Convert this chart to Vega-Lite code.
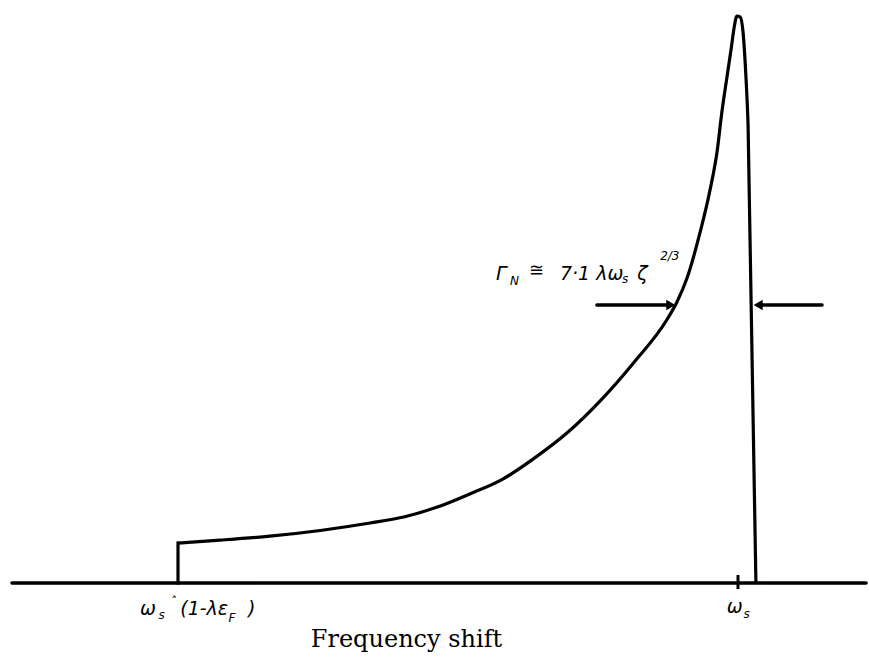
{
  "$schema": "https://vega.github.io/schema/vega-lite/v6.json",
  "width": 869,
  "height": 661,
  "padding": 0,
  "autosize": {"type": "fit", "contains": "padding"},
  "background": "white",
  "config": {"view": {"stroke": null}},
  "datasets": {
    "spectrum": [
      {"freq": 0.0, "level": 0.07},
      {"freq": 0.075, "level": 0.075},
      {"freq": 0.164, "level": 0.082},
      {"freq": 0.254, "level": 0.092},
      {"freq": 0.343, "level": 0.105},
      {"freq": 0.405, "level": 0.116},
      {"freq": 0.463, "level": 0.133},
      {"freq": 0.521, "level": 0.156},
      {"freq": 0.58, "level": 0.182},
      {"freq": 0.634, "level": 0.217},
      {"freq": 0.695, "level": 0.263},
      {"freq": 0.754, "level": 0.319},
      {"freq": 0.813, "level": 0.385},
      {"freq": 0.873, "level": 0.461},
      {"freq": 0.891, "level": 0.492},
      {"freq": 0.909, "level": 0.534},
      {"freq": 0.932, "level": 0.613},
      {"freq": 0.95, "level": 0.688},
      {"freq": 0.963, "level": 0.758},
      {"freq": 0.971, "level": 0.823},
      {"freq": 0.98, "level": 0.884},
      {"freq": 0.988, "level": 0.937},
      {"freq": 0.993, "level": 0.972},
      {"freq": 0.998, "level": 0.993},
      {"freq": 1.004, "level": 0.991},
      {"freq": 1.009, "level": 0.965},
      {"freq": 1.014, "level": 0.89},
      {"freq": 1.018, "level": 0.802},
      {"freq": 1.032, "level": 0.0}
    ],
    "edge": [{"freq": 0.0, "level": 0.0, "level2": 0.07}],
    "baseline": [{"freq": -0.2964, "freq2": 1.2286, "level": 0}],
    "tick": [{"freq": 1.0, "level": 0.014, "level2": -0.0105}],
    "widthArrows": [
      {"freq": 0.748, "freq2": 0.872, "level": 0.487},
      {"freq": 1.044, "freq2": 1.15, "level": 0.487}
    ],
    "headRight": [{"freq": 0.88, "level": 0.487}],
    "headLeft": [{"freq": 1.036, "level": 0.487}],
    "bigText": [
      {"label": "Γ", "freq": 0.568, "level": 0.531},
      {"label": "7·1 λω", "freq": 0.682, "level": 0.531},
      {"label": "ζ", "freq": 0.82, "level": 0.531},
      {"label": "ω", "freq": -0.068, "level": -0.056},
      {"label": "(1-λε", "freq": 0.004, "level": -0.056},
      {"label": ")", "freq": 0.125, "level": -0.056},
      {"label": "ω", "freq": 0.98, "level": -0.053}
    ],
    "approxText": [{"label": "≅", "freq": 0.627, "level": 0.538}],
    "subText": [
      {"label": "N", "freq": 0.593, "level": 0.522},
      {"label": "s", "freq": 0.793, "level": 0.525},
      {"label": "s", "freq": -0.035, "level": -0.063},
      {"label": "F", "freq": 0.09, "level": -0.068},
      {"label": "s", "freq": 1.01, "level": -0.061}
    ],
    "supText": [
      {"label": "2/3", "freq": 0.861, "level": 0.566},
      {"label": "ˆ", "freq": -0.014, "level": -0.04}
    ],
    "title": [{"label": "Frequency shift", "freq": 0.408, "level": -0.112}]
  },
  "encoding": {
    "x": {"field": "freq", "type": "quantitative", "axis": null,
          "scale": {"domain": [-0.31786, 1.23393], "nice": false, "zero": false}},
    "y": {"field": "level", "type": "quantitative", "axis": null,
          "scale": {"domain": [-0.1366, 1.02102], "nice": false, "zero": false}}
  },
  "layer": [
    {
      "data": {"name": "baseline"},
      "mark": {"type": "rule", "color": "black", "strokeWidth": 3.5, "strokeCap": "round"},
      "encoding": {"x2": {"field": "freq2"}}
    },
    {
      "data": {"name": "tick"},
      "mark": {"type": "rule", "color": "black", "strokeWidth": 3},
      "encoding": {"y2": {"field": "level2"}}
    },
    {
      "data": {"name": "edge"},
      "mark": {"type": "rule", "color": "black", "strokeWidth": 3.2, "strokeCap": "square"},
      "encoding": {"y2": {"field": "level2"}}
    },
    {
      "data": {"name": "spectrum"},
      "mark": {"type": "line", "color": "black", "strokeWidth": 3.2, "interpolate": "monotone", "strokeJoin": "round"},
      "encoding": {"order": {"value": 0}}
    },
    {
      "data": {"name": "widthArrows"},
      "mark": {"type": "rule", "color": "black", "strokeWidth": 3.5, "strokeCap": "round"},
      "encoding": {"x2": {"field": "freq2"}}
    },
    {
      "data": {"name": "headRight"},
      "mark": {"type": "point", "shape": "triangle-right", "filled": true, "color": "black", "size": 110, "opacity": 1}
    },
    {
      "data": {"name": "headLeft"},
      "mark": {"type": "point", "shape": "triangle-left", "filled": true, "color": "black", "size": 110, "opacity": 1}
    },
    {
      "data": {"name": "bigText"},
      "mark": {"type": "text", "align": "left", "baseline": "alphabetic", "font": "DejaVu Sans", "fontStyle": "italic", "fontSize": 19, "color": "black"},
      "encoding": {"text": {"field": "label"}}
    },
    {
      "data": {"name": "approxText"},
      "mark": {"type": "text", "align": "left", "baseline": "alphabetic", "font": "DejaVu Sans", "fontSize": 18, "color": "black"},
      "encoding": {"text": {"field": "label"}}
    },
    {
      "data": {"name": "subText"},
      "mark": {"type": "text", "align": "left", "baseline": "alphabetic", "font": "DejaVu Sans", "fontStyle": "italic", "fontSize": 12, "color": "black"},
      "encoding": {"text": {"field": "label"}}
    },
    {
      "data": {"name": "supText"},
      "mark": {"type": "text", "align": "left", "baseline": "alphabetic", "font": "DejaVu Sans", "fontStyle": "italic", "fontSize": 12, "color": "black"},
      "encoding": {"text": {"field": "label"}}
    },
    {
      "data": {"name": "title"},
      "mark": {"type": "text", "align": "center", "baseline": "alphabetic", "font": "DejaVu Serif", "fontSize": 24, "color": "black"},
      "encoding": {"text": {"field": "label"}}
    }
  ]
}
